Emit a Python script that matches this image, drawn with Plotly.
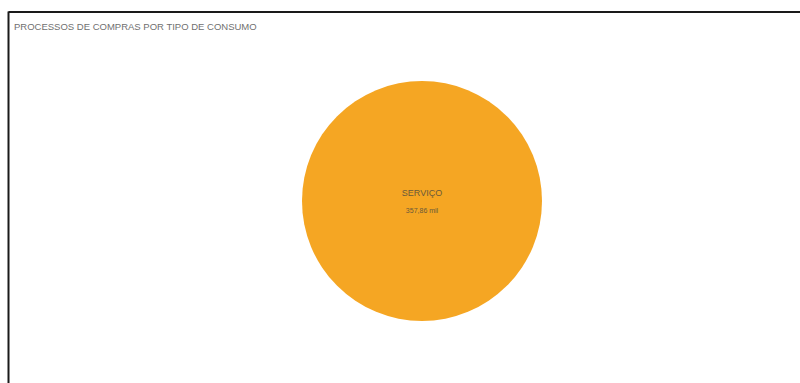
import plotly.graph_objects as go

categories = ["SERVIÇO"]
values = [357860]
value_labels = ["357,86 mil"]
colors = ["#F5A623"]
title_text = "PROCESSOS DE COMPRAS POR TIPO DE CONSUMO"

W, H = 800, 383

fig = go.Figure()
fig.add_trace(go.Pie(
    labels=categories,
    values=values,
    customdata=value_labels,
    marker=dict(colors=colors, line=dict(width=0)),
    texttemplate="<span style='font-size:9px'>%{label}</span><br><span style='font-size:7px'>%{customdata}</span>",
    textposition="inside",
    insidetextorientation="horizontal",
    textfont=dict(family="Liberation Sans, Arial", size=13, color="#6a5a3a"),
    hoverinfo="label+value",
    sort=False,
    showlegend=False,
    domain=dict(x=[302 / W, 542 / W], y=[(H - 321) / H, (H - 81) / H]),
))

fig.update_layout(
    width=W, height=H,
    margin=dict(l=0, r=0, t=0, b=0),
    paper_bgcolor="white",
    plot_bgcolor="white",
    shapes=[
        dict(type="line", xref="paper", yref="paper",
             x0=8.5 / W, x1=8.5 / W, y0=(H - 11.5) / H, y1=-0.1,
             line=dict(color="#1a1a1a", width=2)),
        dict(type="line", xref="paper", yref="paper",
             x0=8.5 / W, x1=1.1, y0=(H - 12) / H, y1=(H - 12) / H,
             line=dict(color="#1a1a1a", width=2)),
    ],
    annotations=[
        dict(text=title_text, xref="paper", yref="paper",
             x=12 / W, y=(H - 26) / H, xanchor="left", yanchor="middle",
             showarrow=False,
             font=dict(family="Liberation Sans, Arial", size=9.5, color="#707070")),
    ],
)

fig.write_html("out.html")
